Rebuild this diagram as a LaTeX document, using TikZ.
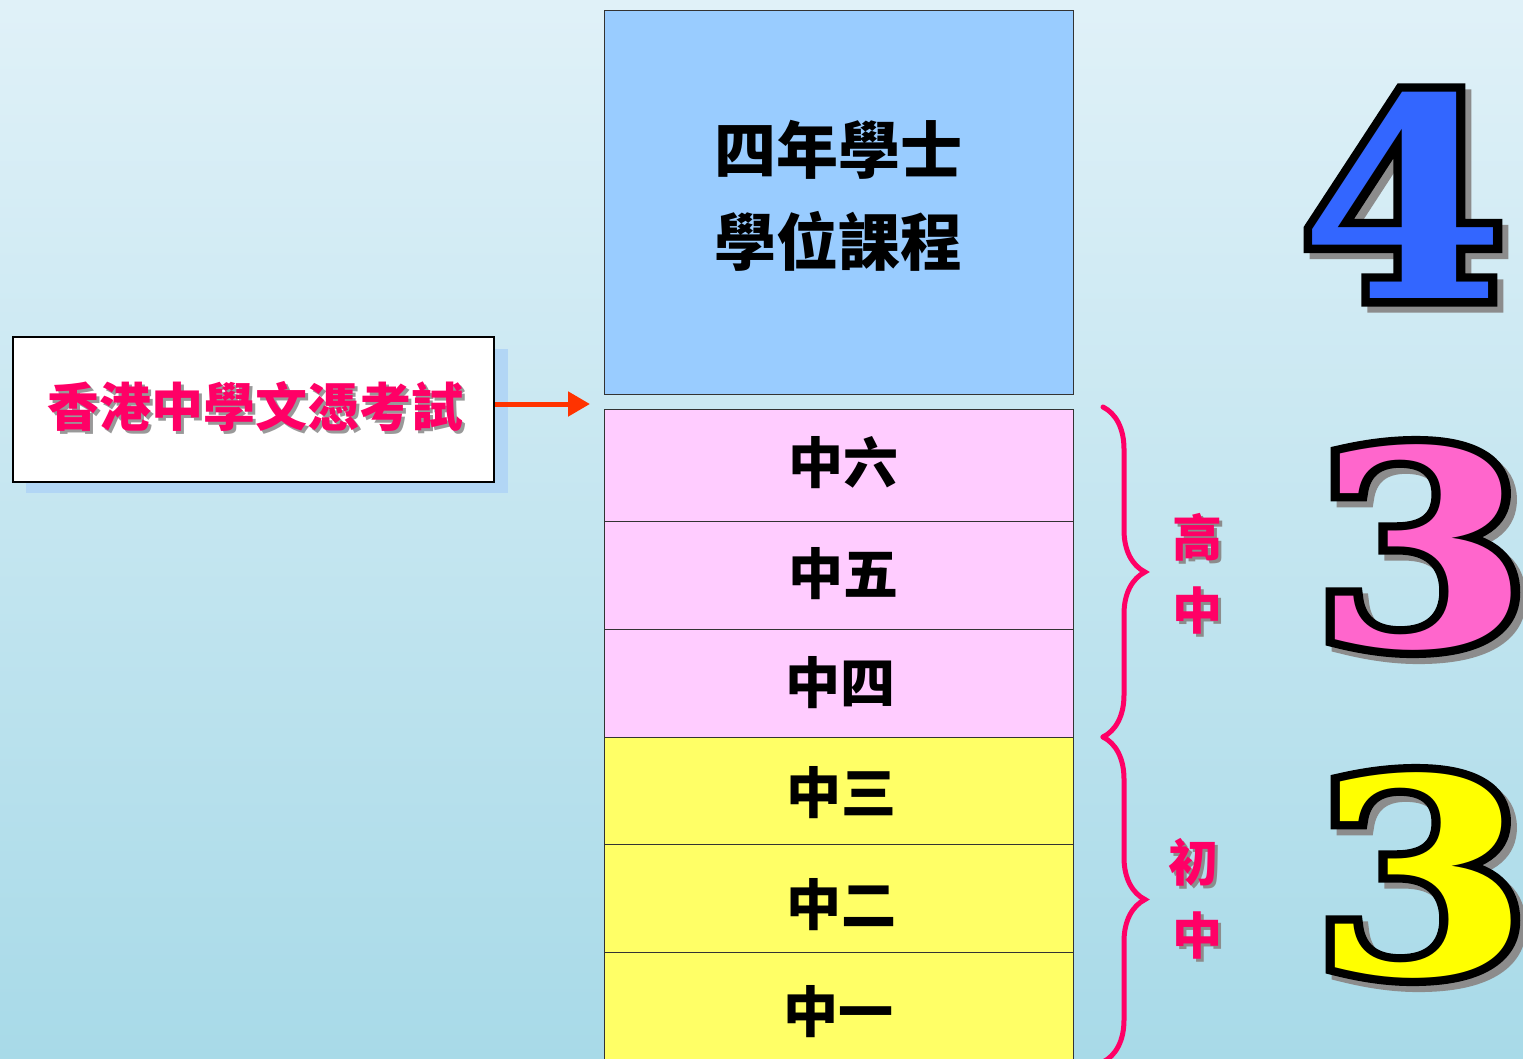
\documentclass[tikz,border=0pt]{standalone}
\usepackage{fontspec}
\newfontfamily\cjk{Noto Sans CJK TC}
\newfontfamily\numf{DejaVu Serif Bold}
\newfontfamily\numo[FakeBold=6]{DejaVu Serif Bold}
\usetikzlibrary{decorations.pathreplacing,arrows.meta}
\definecolor{bgtop}{RGB}{224,241,248}
\definecolor{bgbot}{RGB}{168,218,232}
\definecolor{topbox}{RGB}{153,204,255}
\definecolor{pinkrow}{RGB}{255,204,255}
\definecolor{yelrow}{RGB}{255,255,102}
\definecolor{hot}{RGB}{255,0,102}
\definecolor{arrowred}{RGB}{255,51,0}
\definecolor{shadowblue}{RGB}{178,214,245}
\definecolor{numblue}{RGB}{51,102,255}
\definecolor{numpink}{RGB}{255,102,204}
\definecolor{numyel}{RGB}{255,255,0}
\tikzset{
  rowbox/.style={draw=black!80, line width=0.8pt, inner sep=0pt, outer sep=0pt, minimum width=469pt},
  rowtext/.style={font=\cjk\bfseries\fontsize{55}{60}\selectfont, inner sep=0pt},
  sidetext/.style={font=\cjk\bfseries\fontsize{50}{55}\selectfont, text=hot, inner sep=0pt},
  sideshadow/.style={font=\cjk\bfseries\fontsize{50}{55}\selectfont, text=black!45, inner sep=0pt},
  bigshadow/.style={font=\numo\fontsize{#1}{#1}\selectfont, text=black!45, inner sep=0pt},
  bigoutline/.style={font=\numo\fontsize{#1}{#1}\selectfont, text=black, inner sep=0pt},
  bigfill/.style={font=\numf\fontsize{#1}{#1}\selectfont, inner sep=0pt},
  bracestyle/.style={draw=hot, line width=5pt, line cap=round, decorate, decoration={brace, amplitude=42pt, aspect=0.5}}
}
\begin{document}
\begin{tikzpicture}[x=1pt,y=-1pt]
\useasboundingbox (0,0) rectangle (1523,1058);
\fill[top color=bgtop, bottom color=bgbot] (0,0) rectangle (1523,1058);

% top box
\node[rowbox, fill=topbox, minimum height=384pt] (uni) at (838.5,202) {};
\node[font=\cjk\bfseries\fontsize{62}{92}\selectfont, align=center, inner sep=0pt] (unitext) at (838.5,196) {四年學士\\學位課程};

% rows
\node[rowbox, fill=pinkrow, minimum height=112pt] (s6) at (838.5,465) {};
\node[rowbox, fill=pinkrow, minimum height=108pt] (s5) at (838.5,575) {};
\node[rowbox, fill=pinkrow, minimum height=108pt] (s4) at (838.5,683) {};
\node[rowbox, fill=yelrow, minimum height=107pt] (s3) at (838.5,790.5) {};
\node[rowbox, fill=yelrow, minimum height=108pt] (s2) at (838.5,898) {};
\node[rowbox, fill=yelrow, minimum height=112pt] (s1) at (838.5,1008) {};
\node[rowtext] (t6) at (843,463) {中六};
\node[rowtext] (t5) at (843,574) {中五};
\node[rowtext] (t4) at (840,683) {中四};
\node[rowtext] (t3) at (841,793) {中三};
\node[rowtext] (t2) at (841,905) {中二};
\node[rowtext] (t1) at (838,1012) {中一};

% exam box
\fill[shadowblue] (26,349) rectangle (508,493);
\node[draw=black, line width=2pt, fill=white, minimum width=481pt, minimum height=145pt, inner sep=0pt] (exam) at (253.5,409.5) {};
\node[font=\cjk\bfseries\fontsize{52}{56}\selectfont, text=black!40, inner sep=0pt] (examsh) at (258,409) {香港中學文憑考試};
\node[font=\cjk\bfseries\fontsize{52}{56}\selectfont, text=hot, inner sep=0pt] (examtext) at (255,406) {香港中學文憑考試};
\coordinate (arrowend) at (590,404);
\draw[arrowred, line width=5pt, -{Triangle[length=22pt,width=24pt]}] (exam.east |- arrowend) -- (arrowend);

% braces
\coordinate (b1) at (1103,407);
\coordinate (b2) at (1103,737);
\coordinate (b3) at (1103,1062);
\draw[bracestyle] (b1) -- (b2);
\draw[bracestyle] (b2) -- (b3);

\node[sideshadow] (g1s) at (1200,540) {高};
\node[sidetext] (g1) at (1197,537) {高};
\node[sideshadow] (g2s) at (1200,613) {中};
\node[sidetext] (g2) at (1197,610) {中};
\node[sideshadow] (c1s) at (1196,865) {初};
\node[sidetext] (c1) at (1193,862) {初};
\node[sideshadow] (c2s) at (1200,938) {中};
\node[sidetext] (c2) at (1197,935) {中};

% big numbers
\node[bigshadow=278, xscale=1.06] (n4s) at (1409,201) {4};
\node[bigoutline=278, xscale=1.06] (n4o) at (1403,195) {4};
\node[bigfill=278, xscale=1.06, text=numblue] (n4) at (1403,195) {4};
\node[bigshadow=272, xscale=1.15] (n3as) at (1428,553) {3};
\node[bigoutline=272, xscale=1.15] (n3ao) at (1422,547) {3};
\node[bigfill=272, xscale=1.15, text=numpink] (n3a) at (1422,547) {3};
\node[bigshadow=272, xscale=1.15] (n3bs) at (1428,881) {3};
\node[bigoutline=272, xscale=1.15] (n3bo) at (1422,875) {3};
\node[bigfill=272, xscale=1.15, text=numyel] (n3b) at (1422,875) {3};
\end{tikzpicture}
\end{document}
